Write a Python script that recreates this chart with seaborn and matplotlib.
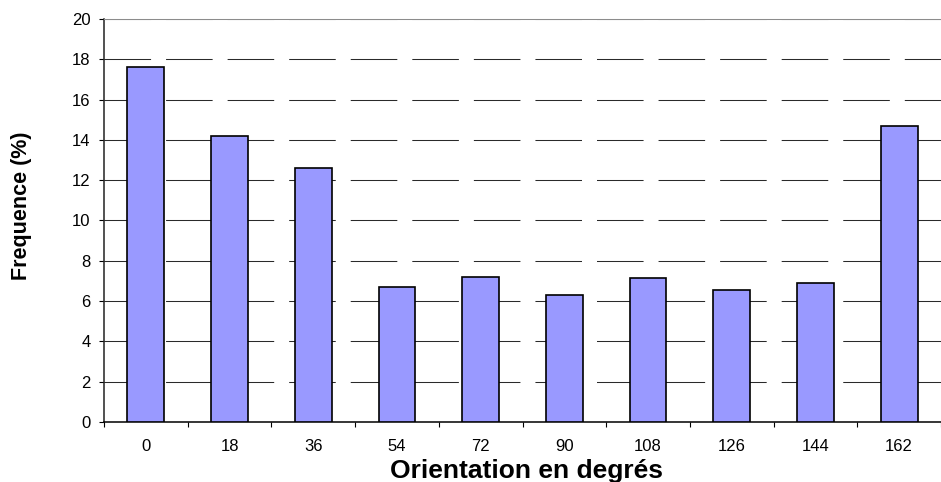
import matplotlib
matplotlib.use("Agg")
import matplotlib.pyplot as plt
import seaborn as sns
import pandas as pd
import numpy as np

# Orientation classes (degrees) and their frequencies (%)
orientations = ["0", "18", "36", "54", "72", "90", "108", "126", "144", "162"]
frequences = [17.6, 14.2, 12.6, 6.7, 7.2, 6.3, 7.15, 6.55, 6.9, 14.7]
y_ticks = [0, 2, 4, 6, 8, 10, 12, 14, 16, 18, 20]

sns.set_theme(style="white")
plt.rcParams["font.family"] = ["Liberation Sans", "DejaVu Sans"]

df = pd.DataFrame({"Orientation": orientations, "Frequence": frequences})

fig = plt.figure(figsize=(9.41, 4.82), dpi=100)
ax = fig.add_axes([104 / 941, 1 - 422 / 482, (941 - 104) / 941, (422 - 19) / 482])

sns.barplot(data=df, x="Orientation", y="Frequence", order=orientations,
            color="#9999FF", saturation=1, width=0.44,
            edgecolor="black", linewidth=1.2, ax=ax, zorder=3)

ax.set_xlim(-0.5, len(orientations) - 0.5)
ax.set_ylim(0, 20)
ax.set_yticks(y_ticks)
ax.set_yticklabels([str(t) for t in y_ticks])

# dashed horizontal gridlines behind the bars
ax.set_axisbelow(True)
ax.yaxis.grid(True, color="#2a2a2a", linewidth=0.75, linestyle=(0, (44.7, 14.4)))
ax.xaxis.grid(False)

# spines
ax.spines["right"].set_visible(False)
ax.spines["top"].set_color("#8c8c8c")
ax.spines["top"].set_linewidth(0.75)
ax.spines["left"].set_color("#222222")
ax.spines["left"].set_linewidth(1.1)
ax.spines["bottom"].set_color("black")
ax.spines["bottom"].set_linewidth(1.1)

# tick marks: y ticks outward, x ticks at category boundaries
ax.tick_params(axis="y", which="major", direction="out", length=3.6, width=0.8,
               color="black", pad=6, labelsize=12, labelcolor="black", left=True)
ax.tick_params(axis="x", which="major", length=0, pad=12.5, labelsize=12,
               labelcolor="black", bottom=True)
ax.set_xticks(np.arange(-0.5, len(orientations), 1.0), minor=True)
ax.tick_params(axis="x", which="minor", direction="out", length=3.6, width=0.8,
               color="black", bottom=True)

ax.set_xlabel("")
ax.set_ylabel("")

fig.text(527 / 941, 1 - 478 / 482, "Orientation en degrés", ha="center",
         va="baseline", fontsize=19, fontweight="bold", color="black")
fig.text(22 / 941, 1 - 206 / 482, "Frequence (%)", ha="center", va="center",
         rotation=90, fontsize=15.5, fontweight="bold", color="black")

fig.savefig("out.png", dpi=100)
